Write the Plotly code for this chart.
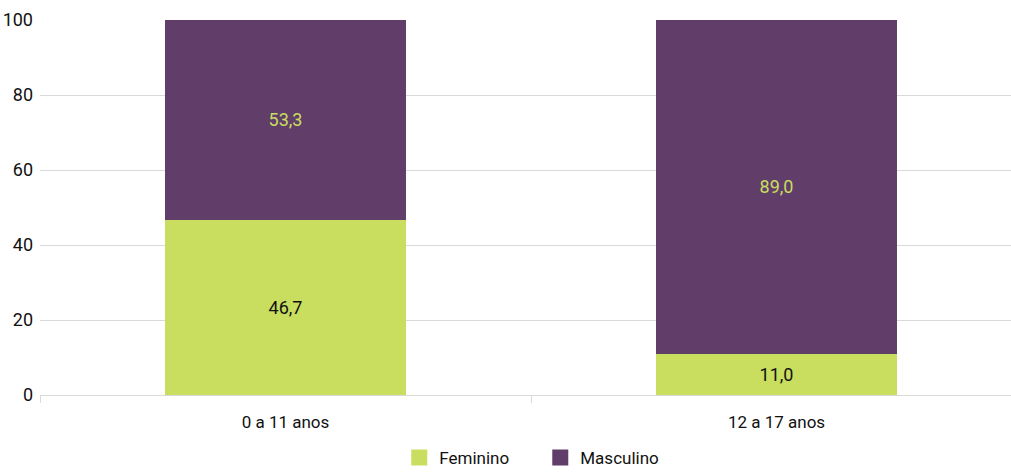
import plotly.graph_objects as go

categories = ["0 a 11 anos", "12 a 17 anos"]
feminino = [46.7, 11.0]
masculino = [53.3, 89.0]
y_ticks = [0, 20, 40, 60, 80, 100]
series_names = ["Feminino", "Masculino"]

GREEN = "#c9dd5e"
PURPLE = "#613d6a"
FONT = "Roboto, Liberation Sans, sans-serif"
FS = 18
FS_CAT = 17

fig = go.Figure()
fig.add_trace(go.Bar(
    x=categories, y=feminino, name=series_names[0], showlegend=False,
    marker=dict(color=GREEN, line=dict(width=0)),
    texttemplate="%{y:.1f}", textposition="inside", insidetextanchor="middle",
    textfont=dict(color="#111111", size=FS, family=FONT),
))
fig.add_trace(go.Bar(
    x=categories, y=masculino, name=series_names[1], showlegend=False,
    marker=dict(color=PURPLE, line=dict(width=0)),
    texttemplate="%{y:.1f}", textposition="inside", insidetextanchor="middle",
    textfont=dict(color=GREEN, size=FS, family=FONT),
))
# legend proxies with larger square swatches
for name, col in zip(series_names, [GREEN, PURPLE]):
    fig.add_trace(go.Scatter(
        x=[None], y=[None], mode="markers", name=name,
        marker=dict(symbol="square", size=17, color=col, line=dict(width=0)),
        showlegend=True, hoverinfo="skip",
    ))

fig.update_layout(
    barmode="stack",
    bargap=0.509,
    separators=",.",
    width=1011, height=473,
    margin=dict(l=40, r=0, t=20, b=78, autoexpand=False),
    paper_bgcolor="white", plot_bgcolor="white",
    font=dict(family=FONT, size=FS, color="#222222"),
    uniformtext=dict(mode="show", minsize=10),
    legend=dict(orientation="h", x=0.370, xanchor="left", y=-0.168, yanchor="middle",
                font=dict(size=FS_CAT, color="#111111"), itemsizing="trace",
                traceorder="normal", entrywidth=96, bgcolor="rgba(0,0,0,0)"),
    showlegend=True,
)
fig.update_xaxes(
    type="category", range=[-0.5, -0.5 + 971 / 491],
    showline=True, linecolor="#d9d9d9", linewidth=1,
    tickson="boundaries", ticks="outside", ticklen=7, tickcolor="#d9d9d9",
    ticklabelstandoff=12,
    showgrid=False, tickfont=dict(size=FS_CAT, color="#111111"),
)
fig.update_yaxes(
    range=[0, 100], tickvals=y_ticks,
    showgrid=True, gridcolor="#d9d9d9", gridwidth=1,
    zeroline=False, showline=False, ticks="", ticklabelstandoff=6,
    tickfont=dict(size=FS, color="#111111"),
)

fig.write_html("out.html", config={"displayModeBar": False},
               post_script="document.body.style.margin='0';")
